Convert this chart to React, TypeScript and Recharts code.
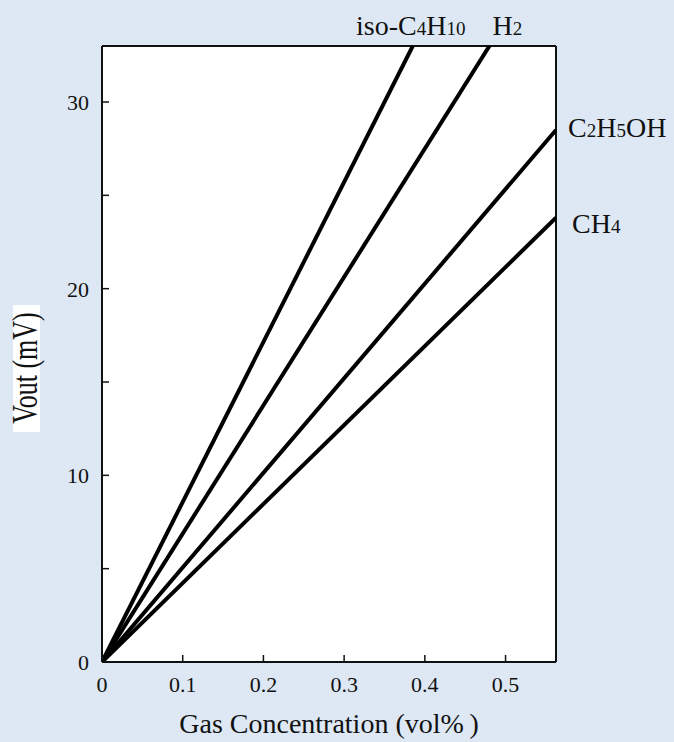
import React from 'react';
import { LineChart, Line, XAxis, YAxis, CartesianGrid, ReferenceLine, Label } from 'recharts';

// straight response lines, start at origin, end where they leave the plot box
const isoButane = [{ x: 0, y: 0 }, { x: 0.385, y: 33 }];
const hydrogen = [{ x: 0, y: 0 }, { x: 0.48, y: 33 }];
const ethanol = [{ x: 0, y: 0 }, { x: 0.5625, y: 28.5 }];
const methane = [{ x: 0, y: 0 }, { x: 0.5625, y: 23.8 }];

const xTicks = [0, 0.1, 0.2, 0.3, 0.4, 0.5];
const yTicks = [0, 5, 10, 15, 20, 25, 30];
const yLabelled = [0, 10, 20, 30];
const xMax = 0.5625;
const yMax = 33;

const FONT = '"Liberation Serif", "Times New Roman", serif';
const BG = '#dde8f4';

const formula = (parts: [string, boolean][], size: number) =>
  parts.map(([t, sub], i) => (
    <tspan key={i} fontSize={sub ? size * 0.68 : size}>{t}</tspan>
  ));

function endLabel(parts: [string, boolean][], dx: number, dy: number, anchor: 'start' | 'middle') {
  return (props: any) => {
    const { x, y, index } = props;
    if (index !== 1) return null;
    return (
      <text x={x + dx} y={y + dy} textAnchor={anchor} fontFamily={FONT} fontSize={28} fill="#111">
        {formula(parts, 28)}
      </text>
    );
  };
}

function YTick(props: any) {
  const { x, y, payload } = props;
  if (!yLabelled.includes(payload.value)) return null;
  return (
    <text x={x} y={y} dy={8} textAnchor="end" fontFamily={FONT} fontSize={22} fill="#111">
      {payload.value}
    </text>
  );
}

function YTitle() {
  return (
    <g>
      <rect x={13} y={305} width={27} height={127} fill="#fff" />
      <g transform="translate(37 368) scale(1.35 1) rotate(-90)">
        <text x={0} y={0} textAnchor="middle" fontFamily={FONT} fontSize={26} fill="#111">
          Vout (mV)
        </text>
      </g>
    </g>
  );
}

export default function App() {
  return (
    <div style={{ position: 'absolute', left: 0, top: 0, width: 674, height: 742, background: BG }}>
      <LineChart
        width={674}
        height={742}
        margin={{ top: 46, right: 118, left: 62, bottom: 50 }}
      >
        <CartesianGrid fill="#fff" horizontal={false} vertical={false} />
        <XAxis
          type="number"
          dataKey="x"
          domain={[0, xMax]}
          ticks={xTicks}
          allowDataOverflow
          height={30}
          tickSize={-7}
          tickMargin={21}
          axisLine={{ stroke: '#111', strokeWidth: 2 }}
          tickLine={{ stroke: '#111', strokeWidth: 1.5 }}
          tick={{ fontFamily: FONT, fontSize: 22, fill: '#111' }}
          tickFormatter={(v: number) => (v === 0 ? '0' : String(v))}
        >
          <Label
            value={'Gas Concentration (vol%\u2009)'}
            position="bottom"
            offset={21}
            style={{ fontFamily: FONT, fontSize: 28, fill: '#111' }}
          />
        </XAxis>
        <YAxis
          type="number"
          dataKey="y"
          domain={[0, yMax]}
          ticks={yTicks}
          allowDataOverflow
          width={40}
          tickSize={-7}
          tickMargin={20}
          axisLine={{ stroke: '#111', strokeWidth: 2 }}
          tickLine={{ stroke: '#111', strokeWidth: 1.5 }}
          tick={<YTick />}
        >
          <Label content={<YTitle />} />
        </YAxis>
        <ReferenceLine y={yMax} stroke="#111" strokeWidth={2} />
        <ReferenceLine x={xMax} stroke="#111" strokeWidth={2} />
        <Line data={isoButane} dataKey="y" stroke="#000" strokeWidth={4} dot={false}
          isAnimationActive={false} label={endLabel([['iso-C', false], ['4', true], ['H', false], ['10', true]], -2, -11, 'middle')} />
        <Line data={hydrogen} dataKey="y" stroke="#000" strokeWidth={4} dot={false}
          isAnimationActive={false} label={endLabel([['H', false], ['2', true]], 18, -11, 'middle')} />
        <Line data={ethanol} dataKey="y" stroke="#000" strokeWidth={4} dot={false}
          isAnimationActive={false} label={endLabel([['C', false], ['2', true], ['H', false], ['5', true], ['OH', false]], 12, 7, 'start')} />
        <Line data={methane} dataKey="y" stroke="#000" strokeWidth={4} dot={false}
          isAnimationActive={false} label={endLabel([['CH', false], ['4', true]], 16, 15, 'start')} />
      </LineChart>
    </div>
  );
}
